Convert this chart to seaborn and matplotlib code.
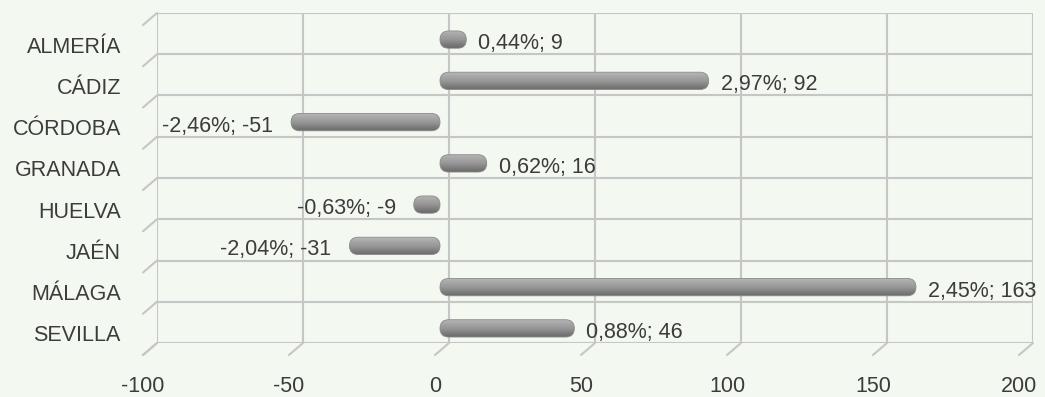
import numpy as np
import matplotlib
matplotlib.use('Agg')
import matplotlib.pyplot as plt
import matplotlib.transforms as mtransforms
from matplotlib.patches import FancyBboxPatch
from matplotlib.colors import LinearSegmentedColormap
import seaborn as sns

# datos
provincias = ['ALMERÍA', 'CÁDIZ', 'CÓRDOBA', 'GRANADA', 'HUELVA', 'JAÉN', 'MÁLAGA', 'SEVILLA']
valores = [9, 92, -51, 16, -9, -31, 163, 46]
porcentajes = ['0,44%', '2,97%', '-2,46%', '0,62%', '-0,63%', '-2,04%', '2,45%', '0,88%']
xticks = [-100, -50, 0, 50, 100, 150, 200]

sns.set_theme(style='white')
plt.rcParams['font.family'] = ['Liberation Sans', 'DejaVu Sans']

fondo = '#f3f8f1'
rejilla = '#c6c6c6'
texto = '#3c3c3c'
fs = 15.5

W, H = 1045, 397
fig = plt.figure(figsize=(W / 100, H / 100), dpi=100, facecolor=fondo)

# pared del fondo (rejilla) y plano de las barras, desplazado como en el 3D de Excel
l, t, w, h = 157, 13, 876, 330
ax = fig.add_axes([l / W, 1 - (t + h) / H, w / W, h / H])
bx = fig.add_axes([(l - 9) / W, 1 - (t + h + 6) / H, w / W, h / H])

for a in (ax, bx):
    a.set_xlim(-100, 200)
    a.set_ylim(7.5, -0.5)
    for s in a.spines.values():
        s.set_visible(False)
ax.set_facecolor(fondo)
bx.patch.set_alpha(0)

# rejilla
ax.vlines(xticks, -0.5, 7.5, color=rejilla, lw=1.5, zorder=1)
ax.hlines(np.arange(-0.5, 8, 1), -100, 200, color=rejilla, lw=1.5, zorder=1)

# pequeñas diagonales de perspectiva
dx, dy = -14 / w, -12 / h
for k in range(9):
    yf = 1 - k / 8
    ax.plot([0, dx], [yf, yf + dy], transform=ax.transAxes, color=rejilla, lw=1.5, clip_on=False)
for xv in xticks:
    xf = (xv + 100) / 300
    ax.plot([xf, xf + dx], [0, dy], transform=ax.transAxes, color=rejilla, lw=1.5, clip_on=False)

# etiquetas de ejes
ax.set_yticks(range(len(provincias)))
ax.set_yticklabels(provincias)
ax.set_xticks(xticks)
ax.set_xticklabels([str(v) for v in xticks])
ax.tick_params(axis='y', length=0, pad=26, labelsize=fs, labelcolor=texto)
ax.tick_params(axis='x', length=0, pad=24, labelsize=fs, labelcolor=texto)
for lab in ax.get_yticklabels():
    lab.set_transform(lab.get_transform() + mtransforms.ScaledTranslation(0, -11 / 100, fig.dpi_scale_trans))
for lab in ax.get_xticklabels():
    lab.set_transform(lab.get_transform() + mtransforms.ScaledTranslation(-14 / 100, 0, fig.dpi_scale_trans))
ax.set_xlabel('')
ax.set_ylabel('')

# barras
sns.barplot(x=valores, y=provincias, orient='h', color='#9a9a9a', width=0.42, ax=bx)
bx.set_xticks([])
bx.set_yticks([])
bx.set_xlabel('')
bx.set_ylabel('')

px_x = w / 300.0
px_y = h / 8.0
cmap = LinearSegmentedColormap.from_list('cil', ['#b8b8b8', '#a6a6a6', '#989898', '#808080', '#6a6a6a'])
grad = np.linspace(0, 1, 64).reshape(-1, 1)
for p in list(bx.patches):
    x0, y0 = p.get_x(), p.get_y()
    bw, bh = p.get_width(), p.get_height()
    if bw < 0:
        x0, bw = x0 + bw, -bw
    p.set_visible(False)
    r = (bh * px_y / 2) / px_x
    fb = FancyBboxPatch((x0, y0), bw, bh, boxstyle=f'round,pad=0,rounding_size={r}',
                        mutation_aspect=px_x / px_y, facecolor='none', edgecolor='#8a8a8a', lw=0.6, zorder=4)
    bx.add_patch(fb)
    im = bx.imshow(grad, cmap=cmap, aspect='auto', extent=(x0, x0 + bw, y0 + bh, y0), zorder=3, interpolation='bicubic')
    im.set_clip_path(fb)

bx.set_xlim(-100, 200)
bx.set_ylim(7.5, -0.5)

# etiquetas de datos
for i, (v, pc) in enumerate(zip(valores, porcentajes)):
    lab = f'{pc}; {v}'
    if v >= 0:
        bx.annotate(lab, (v, i), xytext=(12, -4), textcoords='offset pixels', ha='left', va='center',
                    fontsize=fs, color=texto, annotation_clip=False)
    else:
        bx.annotate(lab, (v, i), xytext=(-18, -4), textcoords='offset pixels', ha='right', va='center',
                    fontsize=fs, color=texto, annotation_clip=False)

fig.savefig('out.png', dpi=100, facecolor=fondo)
